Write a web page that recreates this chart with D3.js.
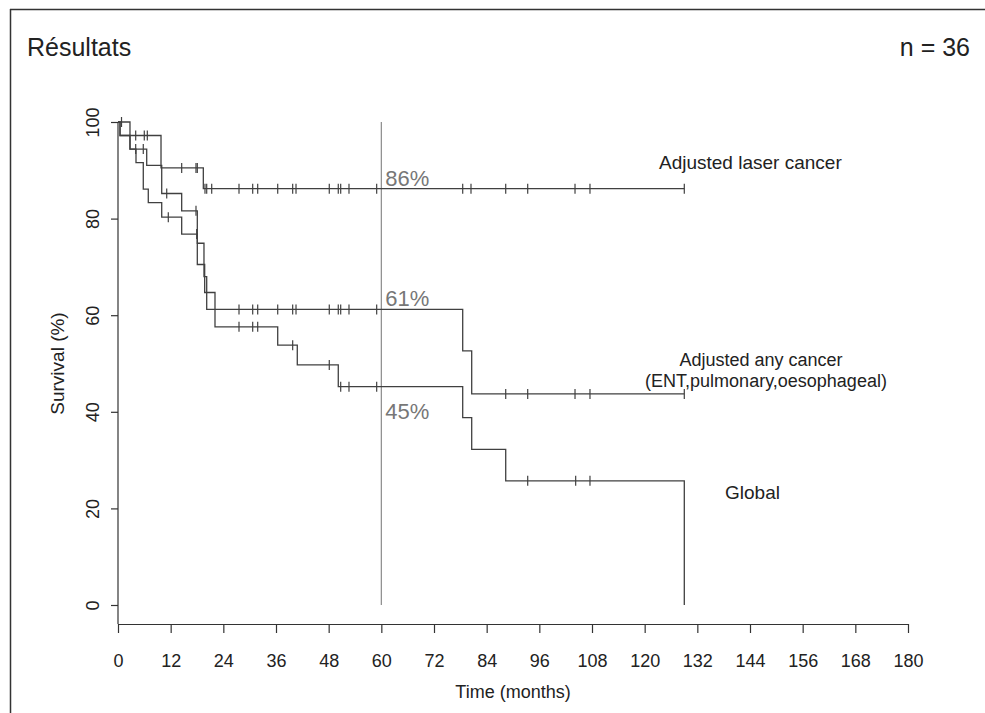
<!DOCTYPE html>
<html>
<head>
<meta charset="utf-8">
<script src="https://cdn.jsdelivr.net/npm/d3@7"></script>
<style>
  html, body { margin: 0; padding: 0; background: #fff; }
  svg { display: block; font-family: "Liberation Sans", Arial, sans-serif; }
</style>
</head>
<body>
<svg id="chart" width="985" height="713"></svg>
<script>
// ---------------- data ----------------
const xTicks = [0, 12, 24, 36, 48, 60, 72, 84, 96, 108, 120, 132, 144, 156, 168, 180];
const yTicks = [0, 20, 40, 60, 80, 100];

// Adjusted laser cancer
const laserEventTimes = [0.46, 9.8, 19.44];
const laserSurvival   = [97.2, 90.5, 86.2];
const laserCensor     = [4.03, 5.99, 6.68, 14.51, 17.77, 18.07, 19.82, 20.21, 21.35, 27.57, 30.69, 31.83,
                         36.39, 39.80, 40.56, 48.14, 50.19, 50.74, 52.63, 58.94, 78.54, 80.43, 88.34,
                         93.35, 104.13, 107.54, 129.03];
const laserEnd = 129.03;

// Adjusted any cancer (ENT, pulmonary, oesophageal)
const anyEventTimes = [2.73, 6.54, 9.96, 14.51, 18.07, 19.59, 20.21, 78.54, 80.59];
const anySurvival   = [94.4, 91.0, 85.2, 81.6, 74.9, 68.0, 61.2, 52.6, 43.7];
const anyCensor     = [0.8, 4.03, 5.76, 11.10, 17.77, 27.57, 30.69, 31.83, 36.39, 39.80, 40.56, 48.14,
                       50.19, 50.74, 52.63, 58.94, 88.34, 93.35, 104.13, 107.54, 129.03];
const anyEnd = 129.03;

// Global
const globalEventTimes = [0.46, 2.73, 4.10, 5.76, 6.90, 9.96, 14.51, 18.07, 19.75, 22.10, 36.39, 40.85,
                          50.19, 78.54, 80.59, 88.34, 129.03];
const globalSurvival   = [97.2, 94.4, 91.6, 86.1, 83.3, 80.3, 76.8, 70.5, 64.7, 57.6, 53.8, 49.7,
                          45.2, 38.8, 32.2, 25.7, 0];
const globalCensor     = [11.46, 17.93, 27.57, 30.69, 31.83, 39.80, 48.14, 50.74, 52.63, 58.94,
                          93.35, 104.28, 107.54];
const globalEnd = 129.03;

const refTime = 60;
const refLabels = [{ value: 86, text: "86%" }, { value: 61, text: "61%" }, { value: 45, text: "45%" }];

// ---------------- drawing ----------------
const svg = d3.select("#chart");
const x = d3.scaleLinear().domain([0, 180]).range([118, 908]);
const y = d3.scaleLinear().domain([0, 100]).range([605, 122]);
const xAxisY = 624;
const ink = "#333";
const curveInk = "#404040";

// slide frame
svg.append("line").attr("x1", 10).attr("x2", 985).attr("y1", 9.5).attr("y2", 9.5)
  .attr("stroke", "#333").attr("stroke-width", 1.5);
svg.append("line").attr("x1", 10.5).attr("x2", 10.5).attr("y1", 9).attr("y2", 713)
  .attr("stroke", "#333").attr("stroke-width", 1.5);

// header
svg.append("text").attr("x", 27).attr("y", 56).attr("font-size", 25).attr("fill", "#222").text("Résultats");
svg.append("text").attr("x", 970).attr("y", 56).attr("font-size", 25).attr("fill", "#222")
  .attr("text-anchor", "end").text("n = 36");

// x axis
const xAxis = d3.axisBottom(x).tickValues(xTicks).tickSize(9).tickSizeOuter(0).tickPadding(21);
const gx = svg.append("g").attr("transform", `translate(0,${xAxisY})`).call(xAxis);
gx.select(".domain").attr("stroke", ink).attr("stroke-width", 1.2);
gx.selectAll(".tick line").attr("stroke", ink).attr("stroke-width", 1.2);
gx.selectAll(".tick text").attr("font-size", 18).attr("fill", "#222")
  .attr("font-family", "Liberation Sans, Arial, sans-serif");

// y axis
const yAxis = d3.axisLeft(y).tickValues(yTicks).tickSize(7).tickSizeOuter(0).tickPadding(0);
const gy = svg.append("g").attr("transform", `translate(${x(0)},0)`).call(yAxis);
gy.select(".domain").remove();
gy.selectAll(".tick line").attr("stroke", ink).attr("stroke-width", 1.2);
gy.selectAll(".tick text").attr("font-size", 18).attr("fill", "#222")
  .attr("font-family", "Liberation Sans, Arial, sans-serif")
  .attr("x", 0).attr("dy", 0)
  .attr("text-anchor", "middle")
  .attr("transform", "translate(-19,0) rotate(-90)");
svg.append("line").attr("x1", x(0)).attr("x2", x(0)).attr("y1", y(100)).attr("y2", xAxisY)
  .attr("stroke", ink).attr("stroke-width", 1.2);

// axis titles
svg.append("text").attr("x", (x(0) + x(180)) / 2).attr("y", 698).attr("text-anchor", "middle")
  .attr("font-size", 18).attr("fill", "#222").text("Time (months)");
svg.append("text").attr("transform", `translate(64,${(y(0) + y(100)) / 2}) rotate(-90)`)
  .attr("text-anchor", "middle").attr("font-size", 19).attr("fill", "#222").text("Survival (%)");

// 60-month reference line
svg.append("line").attr("x1", x(refTime)).attr("x2", x(refTime)).attr("y1", y(100)).attr("y2", y(0))
  .attr("stroke", "#8a8a8a").attr("stroke-width", 1.2);

// curves
const line = d3.line().x(d => x(d[0])).y(d => y(d[1])).curve(d3.curveStepAfter);
function survAt(times, surv, t) {
  let s = 100;
  for (let i = 0; i < times.length; i++) if (times[i] <= t) s = surv[i];
  return s;
}
const curves = [
  { times: laserEventTimes, surv: laserSurvival, censor: laserCensor, end: laserEnd },
  { times: anyEventTimes, surv: anySurvival, censor: anyCensor, end: anyEnd },
  { times: globalEventTimes, surv: globalSurvival, censor: globalCensor, end: globalEnd }
];
curves.forEach(c => {
  const pts = [[0, 100]];
  c.times.forEach((t, i) => pts.push([t, c.surv[i]]));
  pts.push([c.end, c.surv[c.surv.length - 1]]);
  svg.append("path").attr("d", line(pts)).attr("fill", "none")
    .attr("stroke", curveInk).attr("stroke-width", 1.3);
  svg.append("g").selectAll("line").data(c.censor).join("line")
    .attr("x1", d => x(d)).attr("x2", d => x(d))
    .attr("y1", d => y(survAt(c.times, c.surv, d)) - 5)
    .attr("y2", d => y(survAt(c.times, c.surv, d)) + 5)
    .attr("stroke", curveInk).attr("stroke-width", 1.2);
});

// percentage labels at 60 months
svg.append("text").attr("x", x(refTime) + 4).attr("y", y(refLabels[0].value) - 4).attr("font-size", 22)
  .attr("fill", "#777").text(refLabels[0].text);
svg.append("text").attr("x", x(refTime) + 4).attr("y", y(refLabels[1].value) - 4).attr("font-size", 22)
  .attr("fill", "#777").text(refLabels[1].text);
svg.append("text").attr("x", x(refTime) + 4).attr("y", y(refLabels[2].value) + 31).attr("font-size", 22)
  .attr("fill", "#777").text(refLabels[2].text);

// series labels
svg.append("text").attr("x", 659).attr("y", 169).attr("font-size", 19).attr("fill", "#222")
  .text("Adjusted laser cancer");
svg.append("text").attr("x", 761).attr("y", 366).attr("font-size", 18).attr("fill", "#222")
  .attr("text-anchor", "middle").text("Adjusted any cancer");
svg.append("text").attr("x", 766).attr("y", 387).attr("font-size", 18).attr("fill", "#222")
  .attr("text-anchor", "middle").text("(ENT,pulmonary,oesophageal)");
svg.append("text").attr("x", 725).attr("y", 499).attr("font-size", 19).attr("fill", "#222")
  .text("Global");
</script>
</body>
</html>
